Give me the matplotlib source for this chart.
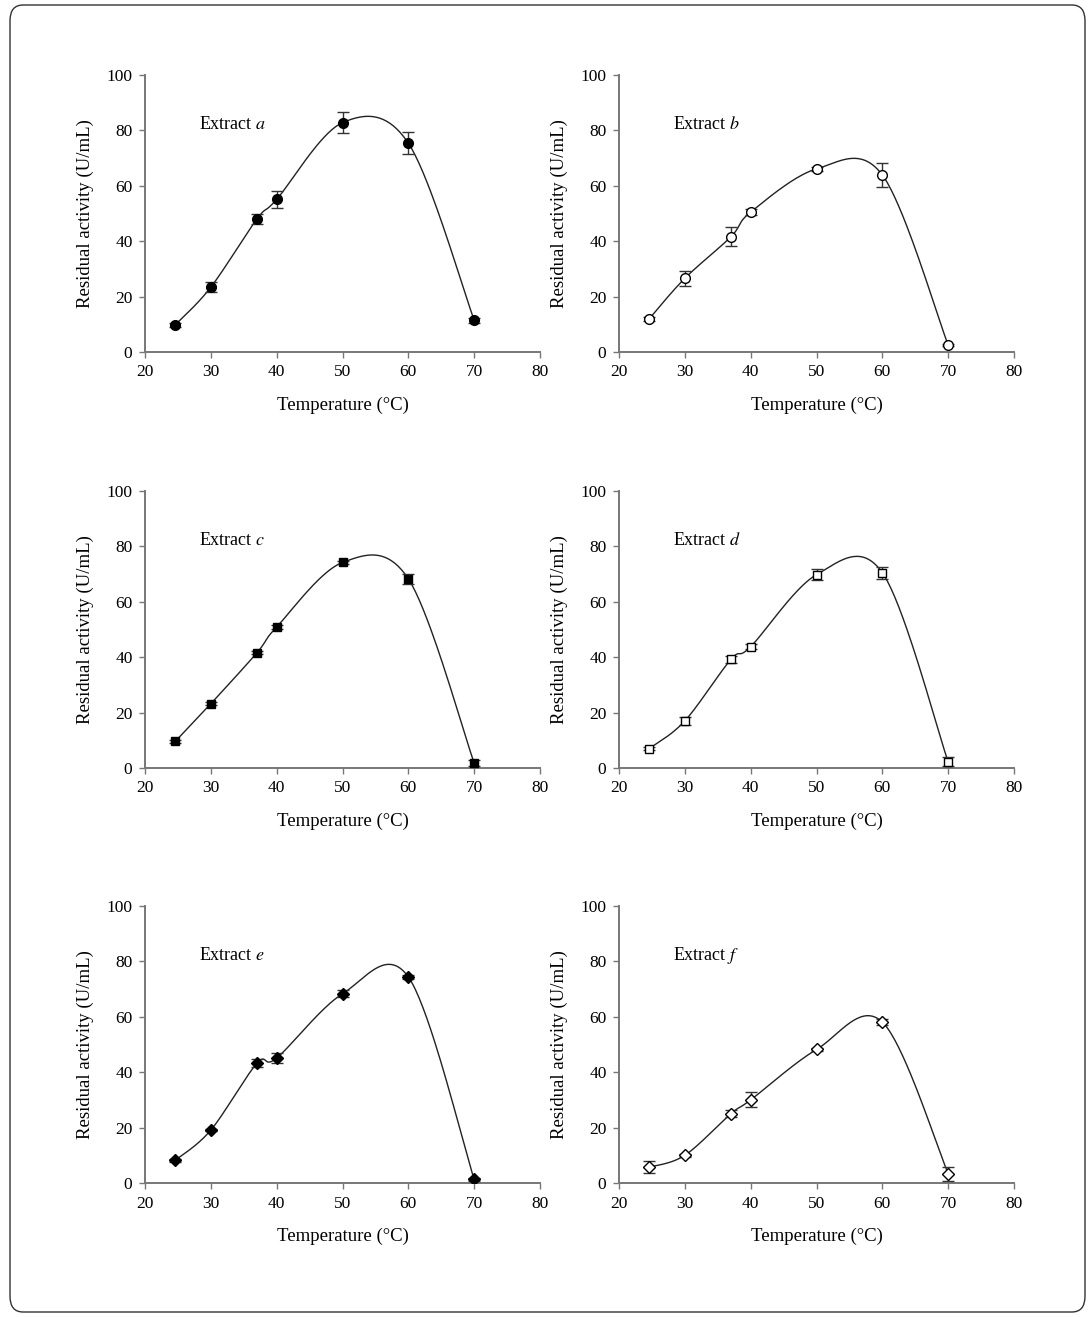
import numpy as np
import matplotlib.pyplot as plt
from matplotlib.patches import FancyBboxPatch

plt.rcParams['font.family'] = ['Liberation Serif', 'DejaVu Serif']
plt.rcParams['mathtext.fontset'] = 'stix'

#%% data
temps = [24.6, 30, 37, 40, 50, 60, 70]

act_a = [9.8, 23.4, 48.0, 55.1, 82.8, 75.4, 11.5]
err_a = [0.6, 1.9, 1.7, 3.1, 3.7, 4.0, 0.9]
act_b = [12.0, 26.6, 41.6, 50.5, 66.1, 63.9, 2.5]
err_b = [0.8, 2.6, 3.5, 1.1, 0.6, 4.4, 0.4]
act_c = [9.6, 23.2, 41.6, 50.9, 74.2, 68.3, 1.8]
err_c = [0.5, 0.5, 0.6, 0.8, 0.6, 1.9, 1.2]
act_d = [7.0, 17.0, 39.2, 43.8, 69.8, 70.5, 2.2]
err_d = [0.6, 1.3, 1.3, 0.8, 2.0, 2.2, 1.6]
act_e = [8.2, 19.1, 43.2, 45.1, 68.3, 74.4, 1.3]
err_e = [0.5, 0.5, 1.5, 1.8, 1.2, 0.8, 0.4]
act_f = [5.7, 10.0, 25.0, 30.0, 48.2, 58.1, 3.4]
err_f = [2.2, 0.6, 1.2, 2.7, 0.6, 1.0, 2.5]

names = ['a', 'b', 'c', 'd', 'e', 'f']
acts = [act_a, act_b, act_c, act_d, act_e, act_f]
errs = [err_a, err_b, err_c, err_d, err_e, err_f]
markers = ['o', 'o', 's', 's', 'D', 'D']
filled = [True, False, True, False, True, False]


def smooth_line(x, y, n=40):
    '''Catmull-Rom style bezier through the points, like a spreadsheet "smoothed line"'''
    p = np.column_stack([x, y]).astype(float)
    p = np.vstack([p[0], p, p[-1]])
    out = []
    t = np.linspace(0, 1, n)[:, None]
    for i in range(1, len(p) - 2):
        p0, p1, p2, p3 = p[i - 1], p[i], p[i + 1], p[i + 2]
        b1 = p1 + (p2 - p0) / 6
        b2 = p2 - (p3 - p1) / 6
        seg = ((1 - t) ** 3) * p1 + 3 * ((1 - t) ** 2) * t * b1 + 3 * (1 - t) * t ** 2 * b2 + t ** 3 * p2
        out.append(seg)
    seg = np.vstack(out)
    return seg[:, 0], seg[:, 1]


#%% figure
W, H = 1091, 1317
fig = plt.figure(figsize=(W / 100, H / 100), dpi=100)

frame = FancyBboxPatch((10 / W, 5 / H), 1075 / W, 1307 / H,
                       boxstyle='round,pad=0,rounding_size=0.012',
                       transform=fig.transFigure, fill=False,
                       edgecolor='#333333', linewidth=1.0)
fig.patches.append(frame)

lefts = [145, 619]
bottoms = [352, 768, 1183]
axw, axh = 395, 277

for k in range(6):
    row, col = k // 2, k % 2
    ax = fig.add_axes([lefts[col] / W, 1 - bottoms[row] / H, axw / W, axh / H])
    xs, ys = smooth_line(temps, acts[k])
    ax.plot(xs, ys, color='#222222', lw=1.0, zorder=2)
    ax.errorbar(temps, acts[k], yerr=errs[k], fmt='none', ecolor='#333333',
                elinewidth=1.0, capsize=4, capthick=1.0, zorder=3)
    if markers[k] == 'o':
        ms = 7
    elif markers[k] == 's':
        ms = 5.5
    else:
        ms = 5.8
    ax.plot(temps, acts[k], linestyle='none', marker=markers[k], markersize=ms,
            markerfacecolor='black' if filled[k] else 'white',
            markeredgecolor='black', markeredgewidth=1.0, zorder=4)

    ax.set_xlim(20, 80)
    ax.set_ylim(0, 100)
    ax.set_xticks(range(20, 81, 10))
    ax.set_yticks(range(0, 101, 20))
    for s in ['top', 'right']:
        ax.spines[s].set_visible(False)
    for s in ['left', 'bottom']:
        ax.spines[s].set_color('#777777')
        ax.spines[s].set_linewidth(1.4)
    ax.tick_params(direction='out', length=4, width=1.0, color='#777777',
                   labelsize=12.5, pad=5)
    ax.set_xlabel('Temperature (°C)', fontsize=13.5, labelpad=12)
    ax.set_ylabel('Residual activity (U/mL)', fontsize=13.5, labelpad=9)
    ax.text(28.2, 82, 'Extract $\\it{' + names[k] + '}$', fontsize=13,
            ha='left', va='center')

fig.savefig('out.png', dpi=100)
